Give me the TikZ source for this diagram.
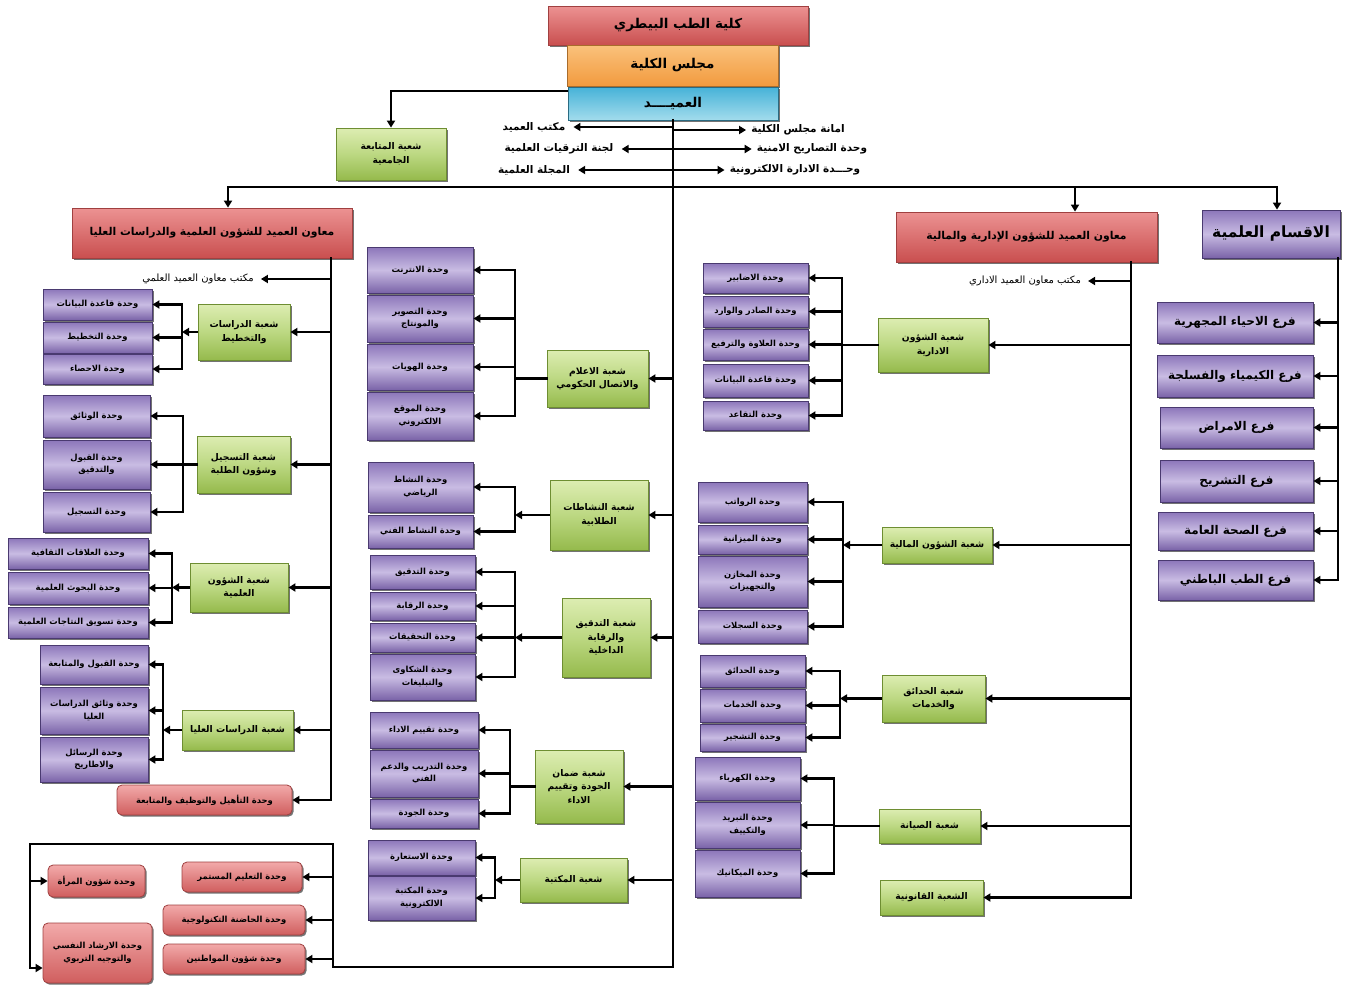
\documentclass[tikz,border=0pt]{standalone}
\usepackage{fontspec}
\usetikzlibrary{arrows.meta,shadows}
\newfontfamily\arf[Script=Arabic]{DejaVu Sans}
\TeXXeTstate=1
\newcommand\ArL[1]{\beginR#1\endR}
\newcommand\mkbox[7]{\node[#1, minimum width={#5-#3}, minimum height={#6-#4}] (#2) at ({(#3+#5)/2},{(#4+#6)/2}) {#7};}
\definecolor{uTop}{HTML}{8C76BA}
\definecolor{uMid}{HTML}{C9BCE3}
\definecolor{uBot}{HTML}{7A63A8}
\definecolor{uDr}{HTML}{4A3A70}
\definecolor{gTop}{HTML}{DDEDB2}
\definecolor{gMid}{HTML}{BCD882}
\definecolor{gBot}{HTML}{95BA4C}
\definecolor{gDr}{HTML}{6E8E32}
\definecolor{rTop}{HTML}{F2AAAA}
\definecolor{rBot}{HTML}{D05E5E}
\definecolor{rDr}{HTML}{A04040}
\definecolor{vTop}{HTML}{EC9292}
\definecolor{vBot}{HTML}{C94F4F}
\definecolor{oTop}{HTML}{FAC27C}
\definecolor{oBot}{HTML}{F29A3E}
\definecolor{bTop}{HTML}{46B2D8}
\definecolor{bBot}{HTML}{A2DCEC}
\tikzset{
  base/.style={inner sep=1pt, align=center, text=black,
    drop shadow={shadow xshift=1.6pt, shadow yshift=-1.6pt, fill=black, opacity=.55}},
  unit/.style={base, draw=uDr, line width=.8pt, top color=uTop, bottom color=uBot, middle color=uMid,
    font=\arf\bfseries\fontsize{8.4}{12.5}\selectfont},
  fara/.style={unit, font=\arf\bfseries\fontsize{12}{14}\selectfont},
  sec/.style={base, draw=gDr, line width=.8pt, top color=gTop, bottom color=gBot, middle color=gMid,
    font=\arf\bfseries\fontsize{9.2}{13.5}\selectfont},
  redu/.style={base, draw=rDr, line width=.8pt, rounded corners=5pt, top color=rTop, bottom color=rBot,
    font=\arf\bfseries\fontsize{8.4}{12.5}\selectfont},
  vp/.style={base, draw=rDr, line width=.8pt, top color=vTop, bottom color=vBot,
    font=\arf\bfseries\fontsize{10.8}{13}\selectfont},
  college/.style={vp, font=\arf\bfseries\fontsize{13.5}{15}\selectfont},
  council/.style={base, draw=oBot!70!black, line width=.8pt, top color=oTop, bottom color=oBot,
    font=\arf\bfseries\fontsize{13.5}{15}\selectfont},
  deanS/.style={base, draw=bTop!60!black, line width=.8pt, top color=bTop, bottom color=bBot,
    font=\arf\bfseries\fontsize{13.5}{15}\selectfont},
  dept/.style={unit, font=\arf\bfseries\fontsize{15.5}{17}\selectfont},
  lbl/.style={inner sep=1pt, font=\arf\bfseries\fontsize{10.5}{12}\selectfont},
  lblp/.style={inner sep=1pt, font=\arf\fontsize{10}{12}\selectfont},
  ln/.style={line width=2.4pt, line cap=rect},
  arr/.style={line width=2.4pt, -{Triangle[length=7pt,width=8pt]}},
}
\begin{document}
\begin{tikzpicture}[x=1pt,y=-1pt]
\useasboundingbox (0,0) rectangle (1348,985);
% ---------------- top
\mkbox{college}{col}{548}{6}{808}{45}{\ArL{كلية الطب البيطري}}
\mkbox{council}{cou}{567}{45}{778}{86}{\ArL{مجلس الكلية}}
\mkbox{deanS}{dean}{568}{87}{778}{120}{\ArL{العميــــد}}
\mkbox{sec}{mut}{336}{128}{446}{180}{\ArL{شعبة المتابعة}\\\ArL{الجامعية}}
\coordinate (T) at (673,120);
\coordinate (TB) at (673,967);
\coordinate (dm) at (568,91);
\draw[arr] (dm) -| (mut.north);
\node[lbl] (l1) at (534,127) {\ArL{مكتب العميد}};
\node[lbl] (l2) at (559,149) {\ArL{لجنة الترقيات العلمية}};
\node[lbl] (l3) at (534,170) {\ArL{المجلة العلمية}};
\node[lbl] (r1) at (798,130) {\ArL{امانة مجلس الكلية}};
\node[lbl] (r2) at (812,149) {\ArL{وحدة التصاريح الامنية}};
\node[lbl] (r3) at (795,170) {\ArL{وحـــدة الادارة الالكترونية}};
\foreach \n in {l1,l2,l3} \draw[arr,shorten >=7pt] (T |- \n) -- (\n.east);
\foreach \n in {r1,r2,r3} \draw[arr,shorten >=4pt] (T |- \n) -- (\n.west);
% top bus
\coordinate (busL) at (228,187);
\coordinate (busM) at (1075,187);
\coordinate (busR) at (1277,187);
\draw[ln] (busL) -- (busR);
\draw[ln] (dean.south) -- (TB);
% ---------------- VP1
\mkbox{vp}{vp1}{72}{208}{352}{258}{\ArL{معاون العميد للشؤون العلمية والدراسات العليا}}
\draw[arr] (busL) -- (busL |- vp1.north);
\coordinate (vA) at (331,0);
\node[lblp] (o1) at (198,279) {\ArL{مكتب معاون العميد العلمي}};
% group 1
\mkbox{sec}{s1}{198}{304}{290}{360}{\ArL{شعبة الدراسات}\\\ArL{والتخطيط}}
\mkbox{unit}{u11}{43}{289}{152}{320}{\ArL{وحدة قاعدة البيانات}}
\mkbox{unit}{u12}{43}{322}{152}{353}{\ArL{وحدة التخطيط}}
\mkbox{unit}{u13}{43}{354}{152}{384}{\ArL{وحدة الاحصاء}}
% group 2
\mkbox{sec}{s2}{197}{436}{290}{493}{\ArL{شعبة التسجيل}\\\ArL{وشؤون الطلبة}}
\mkbox{unit}{u21}{43}{395}{150}{437}{\ArL{وحدة الوثائق}}
\mkbox{unit}{u22}{43}{440}{150}{489}{\ArL{وحدة القبول}\\\ArL{والتدقيق}}
\mkbox{unit}{u23}{43}{492}{150}{532}{\ArL{وحدة التسجيل}}
% group 3
\mkbox{sec}{s3}{190}{563}{288}{612}{\ArL{شعبة الشؤون}\\\ArL{العلمية}}
\mkbox{unit}{u31}{8}{538}{148}{569}{\ArL{وحدة العلاقات الثقافية}}
\mkbox{unit}{u32}{8}{572}{148}{604}{\ArL{وحدة البحوث العلمية}}
\mkbox{unit}{u33}{8}{607}{148}{638}{\ArL{وحدة تسويق النتاجات العلمية}}
% group 4
\mkbox{sec}{s4}{182}{710}{293}{750}{\ArL{شعبة الدراسات العليا}}
\mkbox{unit}{u41}{40}{645}{148}{684}{\ArL{وحدة القبول والمتابعة}}
\mkbox{unit}{u42}{40}{687}{148}{734}{\ArL{وحدة وثائق الدراسات}\\\ArL{العليا}}
\mkbox{unit}{u43}{40}{737}{148}{782}{\ArL{وحدة الرسائل}\\\ArL{والاطاريح}}
\mkbox{redu}{q1}{117}{785}{292}{815}{\ArL{وحدة التأهيل والتوظيف والمتابعة}}
% VP1 connectors
\draw[ln] (vA |- vp1.south) -- (vA |- q1);
\draw[arr,shorten >=6pt] (vA |- o1) -- (o1.east);
\foreach \n in {s1,s2,s3,s4,q1} \draw[arr] (vA |- \n) -- (\n.east);
\coordinate (b1) at (182,0);
\coordinate (b2) at (183,0);
\coordinate (b3) at (172,0);
\coordinate (b4) at (163,0);
\draw[ln] (b1 |- u11) -- (b1 |- u13);
\foreach \n in {u11,u12,u13} \draw[arr] (b1 |- \n) -- (\n.east);
\draw[arr] (s1.west) -- (s1.west -| b1);
\draw[ln] (b2 |- u21) -- (b2 |- u23);
\foreach \n in {u21,u22,u23} \draw[arr] (b2 |- \n) -- (\n.east);
\draw[ln] (s2.west) -- (s2.west -| b2);
\draw[ln] (b3 |- u31) -- (b3 |- u33);
\foreach \n in {u31,u32,u33} \draw[arr] (b3 |- \n) -- (\n.east);
\draw[arr] (s3.west) -- (s3.west -| b3);
\draw[ln] (b4 |- u41) -- (b4 |- u43);
\foreach \n in {u41,u42,u43} \draw[arr] (b4 |- \n) -- (\n.east);
\draw[arr] (s4.west) -- (s4.west -| b4);
% ---------------- bottom left frame
\mkbox{redu}{e1}{182}{862}{302}{892}{\ArL{وحدة التعليم المستمر}}
\mkbox{redu}{e2}{163}{905}{305}{935}{\ArL{وحدة الحاضنة التكنولوجية}}
\mkbox{redu}{e3}{163}{944}{305}{974}{\ArL{وحدة شؤون المواطنين}}
\mkbox{redu}{e4}{48}{865}{145}{897}{\ArL{وحدة شؤون المرأة}}
\mkbox{redu}{e5}{43}{923}{152}{983}{\ArL{وحدة الارشاد النفسي}\\\ArL{والتوجيه التربوي}}
\coordinate (fR) at (333,844);
\coordinate (fL) at (30,844);
\coordinate (fRB) at (333,967);
\coordinate (fLB) at (30,968);
\draw[ln] (TB) -- (fRB) -- (fR) -- (fL) -- (fLB);
\foreach \n in {e1,e2,e3} \draw[arr] (fR |- \n) -- (\n.east);
\draw[arr] (fL |- e4) -- (e4.west);
\draw[arr] (fLB) -- (fLB -| e5.west);
% ---------------- middle column
\mkbox{sec}{m1}{547}{350}{648}{407}{\ArL{شعبة الاعلام}\\\ArL{والاتصال الحكومي}}
\mkbox{unit}{n11}{367}{247}{473}{293}{\ArL{وحدة الانترنت}}
\mkbox{unit}{n12}{367}{295}{473}{342}{\ArL{وحدة التصوير}\\\ArL{والمونتاج}}
\mkbox{unit}{n13}{367}{344}{473}{390}{\ArL{وحدة الهويات}}
\mkbox{unit}{n14}{367}{392}{473}{440}{\ArL{وحدة الموقع}\\\ArL{الالكتروني}}
\mkbox{sec}{m2}{550}{480}{648}{550}{\ArL{شعبة النشاطات}\\\ArL{الطلابية}}
\mkbox{unit}{n21}{368}{462}{473}{512}{\ArL{وحدة النشاط}\\\ArL{الرياضي}}
\mkbox{unit}{n22}{368}{515}{473}{548}{\ArL{وحدة النشاط الفني}}
\mkbox{sec}{m3}{562}{598}{650}{677}{\ArL{شعبة التدقيق}\\\ArL{والرقابة}\\\ArL{الداخلية}}
\mkbox{unit}{n31}{370}{555}{475}{589}{\ArL{وحدة التدقيق}}
\mkbox{unit}{n32}{370}{592}{475}{620}{\ArL{وحدة الرقابة}}
\mkbox{unit}{n33}{370}{623}{475}{652}{\ArL{وحدة التحقيقات}}
\mkbox{unit}{n34}{370}{654}{475}{700}{\ArL{وحدة الشكاوى}\\\ArL{والتبليغات}}
\mkbox{sec}{m4}{535}{750}{623}{823}{\ArL{شعبة ضمان}\\\ArL{الجودة وتقييم}\\\ArL{الاداء}}
\mkbox{unit}{n41}{370}{712}{478}{748}{\ArL{وحدة تقييم الاداء}}
\mkbox{unit}{n42}{370}{750}{478}{797}{\ArL{وحدة التدريب والدعم}\\\ArL{الفني}}
\mkbox{unit}{n43}{370}{799}{478}{828}{\ArL{وحدة الجودة}}
\mkbox{sec}{m5}{520}{858}{627}{902}{\ArL{شعبة المكتبة}}
\mkbox{unit}{n51}{368}{840}{475}{875}{\ArL{وحدة الاستعارة}}
\mkbox{unit}{n52}{368}{876}{475}{920}{\ArL{وحدة المكتبة}\\\ArL{الالكترونية}}
\foreach \n in {m1,m2,m3,m4,m5} \draw[arr] (T |- \n) -- (\n.east);
\coordinate (c1) at (515,0);
\coordinate (c4) at (510,0);
\coordinate (c5) at (495,0);
\draw[ln] (c1 |- n11) -- (c1 |- n14);
\foreach \n in {n11,n12,n13,n14} \draw[arr] (c1 |- \n) -- (\n.east);
\draw[ln] (m1.west) -- (m1.west -| c1);
\draw[ln] (c1 |- n21) -- (c1 |- n22);
\foreach \n in {n21,n22} \draw[arr] (c1 |- \n) -- (\n.east);
\draw[arr] (m2.west) -- (m2.west -| c1);
\draw[ln] (c1 |- n31) -- (c1 |- n34);
\foreach \n in {n31,n32,n33,n34} \draw[arr] (c1 |- \n) -- (\n.east);
\draw[arr] (m3.west) -- (m3.west -| c1);
\draw[ln] (c4 |- n41) -- (c4 |- n43);
\foreach \n in {n41,n42,n43} \draw[arr] (c4 |- \n) -- (\n.east);
\draw[ln] (m4.west) -- (m4.west -| c4);
\draw[ln] (c5 |- n51) -- (c5 |- n52);
\foreach \n in {n51,n52} \draw[arr] (c5 |- \n) -- (\n.east);
\draw[arr] (m5.west) -- (m5.west -| c5);
% ---------------- VP2
\mkbox{vp}{vp2}{896}{212}{1157}{262}{\ArL{معاون العميد للشؤون الإدارية والمالية}}
\draw[arr] (busM) -- (busM |- vp2.north);
\coordinate (vB) at (1131,0);
\node[lblp] (o2) at (1025,281) {\ArL{مكتب معاون العميد الاداري}};
\mkbox{sec}{a1}{878}{318}{988}{372}{\ArL{شعبة الشؤون}\\\ArL{الادارية}}
\mkbox{unit}{p11}{703}{263}{808}{293}{\ArL{وحدة الاضابير}}
\mkbox{unit}{p12}{703}{296}{808}{327}{\ArL{وحدة الصادر والوارد}}
\mkbox{unit}{p13}{703}{329}{808}{360}{\ArL{وحدة العلاوة والترفيع}}
\mkbox{unit}{p14}{703}{364}{808}{397}{\ArL{وحدة قاعدة البيانات}}
\mkbox{unit}{p15}{703}{401}{808}{430}{\ArL{وحدة التقاعد}}
\mkbox{sec}{a2}{882}{527}{992}{563}{\ArL{شعبة الشؤون المالية}}
\mkbox{unit}{p21}{698}{482}{807}{522}{\ArL{وحدة الرواتب}}
\mkbox{unit}{p22}{698}{525}{807}{554}{\ArL{وحدة الميزانية}}
\mkbox{unit}{p23}{698}{556}{807}{607}{\ArL{وحدة المخازن}\\\ArL{والتجهيزات}}
\mkbox{unit}{p24}{698}{610}{807}{643}{\ArL{وحدة السجلات}}
\mkbox{sec}{a3}{882}{675}{985}{722}{\ArL{شعبة الحدائق}\\\ArL{والخدمات}}
\mkbox{unit}{p31}{700}{655}{805}{687}{\ArL{وحدة الحدائق}}
\mkbox{unit}{p32}{700}{689}{805}{722}{\ArL{وحدة الخدمات}}
\mkbox{unit}{p33}{700}{724}{805}{751}{\ArL{وحدة التشجير}}
\mkbox{sec}{a4}{879}{809}{980}{843}{\ArL{شعبة الصيانة}}
\mkbox{unit}{p41}{695}{757}{800}{800}{\ArL{وحدة الكهرباء}}
\mkbox{unit}{p42}{695}{802}{800}{848}{\ArL{وحدة التبريد}\\\ArL{والتكييف}}
\mkbox{unit}{p43}{695}{850}{800}{897}{\ArL{وحدة الميكانيك}}
\mkbox{sec}{a5}{880}{880}{983}{915}{\ArL{الشعبة القانونية}}
\draw[ln] (vB |- vp2.south) -- (vB |- a5);
\draw[arr,shorten >=6pt] (vB |- o2) -- (o2.east);
\foreach \n in {a1,a2,a3,a4,a5} \draw[arr] (vB |- \n) -- (\n.east);
\coordinate (d1) at (842,0);
\coordinate (d2) at (843,0);
\coordinate (d3) at (840,0);
\coordinate (d4) at (834,0);
\draw[ln] (d1 |- p11) -- (d1 |- p15);
\foreach \n in {p11,p12,p13,p14,p15} \draw[arr] (d1 |- \n) -- (\n.east);
\draw[ln] (a1.west) -- (a1.west -| d1);
\draw[ln] (d2 |- p21) -- (d2 |- p24);
\foreach \n in {p21,p22,p23,p24} \draw[arr] (d2 |- \n) -- (\n.east);
\draw[arr] (a2.west) -- (a2.west -| d2);
\draw[ln] (d3 |- p31) -- (d3 |- p33);
\foreach \n in {p31,p32,p33} \draw[arr] (d3 |- \n) -- (\n.east);
\draw[arr] (a3.west) -- (a3.west -| d3);
\draw[ln] (d4 |- p41) -- (d4 |- p43);
\foreach \n in {p41,p42,p43} \draw[arr] (d4 |- \n) -- (\n.east);
\draw[ln] (a4.west) -- (a4.west -| d4);
% ---------------- departments
\mkbox{dept}{dep}{1202}{210}{1340}{258}{\ArL{الاقسام العلمية}}
\draw[arr] (busR) -- (busR |- dep.north);
\coordinate (vC) at (1338,0);
\mkbox{fara}{f1}{1157}{302}{1313}{343}{\ArL{فرع الاحياء المجهرية}}
\mkbox{fara}{f2}{1157}{355}{1313}{397}{\ArL{فرع الكيمياء والفسلجة}}
\mkbox{fara}{f3}{1160}{407}{1313}{448}{\ArL{فرع الامراض}}
\mkbox{fara}{f4}{1160}{460}{1313}{502}{\ArL{فرع التشريح}}
\mkbox{fara}{f5}{1158}{512}{1313}{550}{\ArL{فرع الصحة العامة}}
\mkbox{fara}{f6}{1158}{560}{1313}{600}{\ArL{فرع الطب الباطني}}
\draw[ln] (vC |- dep.south) -- (vC |- f6);
\foreach \n in {f1,f2,f3,f4,f5,f6} \draw[arr] (vC |- \n) -- (\n.east);
\end{tikzpicture}
\end{document}
